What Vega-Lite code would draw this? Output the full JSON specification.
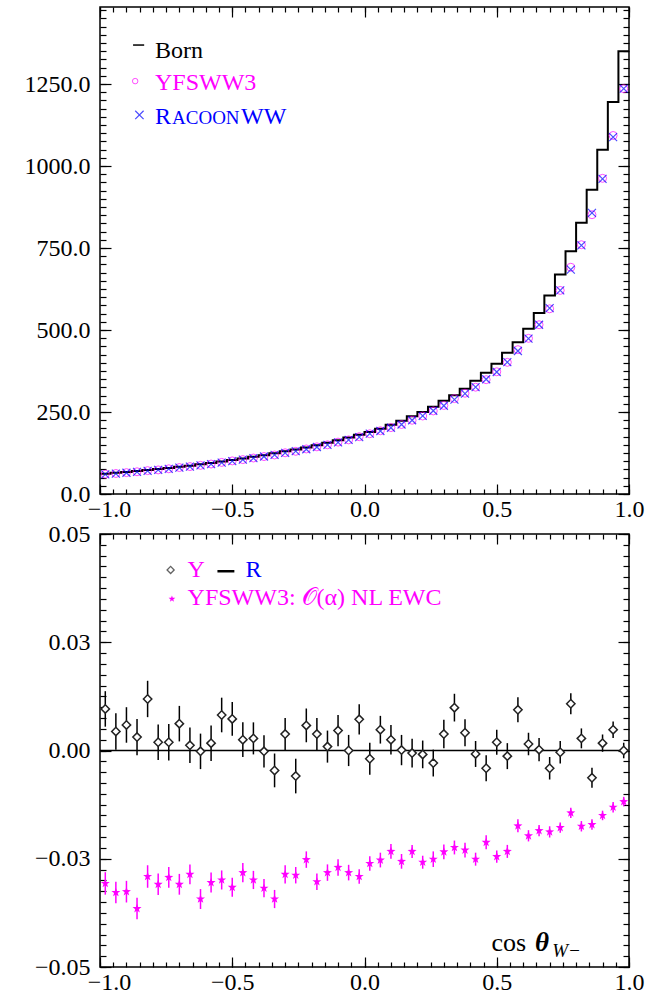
{
  "$schema": "https://vega.github.io/schema/vega-lite/v6.json",
  "padding": {"left": 23, "top": 5, "right": 0, "bottom": 0},
  "bounds": "flush",
  "spacing": 40,
  "background": "white",
  "config": {
    "view": {"stroke": "black", "strokeWidth": 1.5},
    "axis": {"domain": false, "grid": false, "labelFont": "'Liberation Serif', 'Times New Roman', Times, serif", "labelFontSize": 24, "labelColor": "black", "tickColor": "black", "tickWidth": 1.2},
    "text": {"font": "'Liberation Serif', 'Times New Roman', Times, serif"}
  },
  "datasets": {
    "born": [
      {"x": -1.00, "born": 62}, {"x": -0.96, "born": 64.5}, {"x": -0.92, "born": 67}, {"x": -0.88, "born": 70},
      {"x": -0.84, "born": 73}, {"x": -0.80, "born": 76}, {"x": -0.76, "born": 79.5}, {"x": -0.72, "born": 83},
      {"x": -0.68, "born": 86.5}, {"x": -0.64, "born": 90.5}, {"x": -0.60, "born": 94.5}, {"x": -0.56, "born": 99},
      {"x": -0.52, "born": 104}, {"x": -0.48, "born": 108.5}, {"x": -0.44, "born": 113.5}, {"x": -0.40, "born": 118.5},
      {"x": -0.36, "born": 124}, {"x": -0.32, "born": 130}, {"x": -0.28, "born": 136}, {"x": -0.24, "born": 142},
      {"x": -0.20, "born": 149}, {"x": -0.16, "born": 156}, {"x": -0.12, "born": 164}, {"x": -0.08, "born": 172},
      {"x": -0.04, "born": 181}, {"x": 0.00, "born": 189}, {"x": 0.04, "born": 199}, {"x": 0.08, "born": 211},
      {"x": 0.12, "born": 223}, {"x": 0.16, "born": 237}, {"x": 0.20, "born": 250}, {"x": 0.24, "born": 266},
      {"x": 0.28, "born": 284}, {"x": 0.32, "born": 301}, {"x": 0.36, "born": 321}, {"x": 0.40, "born": 345},
      {"x": 0.44, "born": 370}, {"x": 0.48, "born": 397}, {"x": 0.52, "born": 431}, {"x": 0.56, "born": 463},
      {"x": 0.60, "born": 504}, {"x": 0.64, "born": 552}, {"x": 0.68, "born": 605}, {"x": 0.72, "born": 669},
      {"x": 0.76, "born": 740}, {"x": 0.80, "born": 827}, {"x": 0.84, "born": 928}, {"x": 0.88, "born": 1050},
      {"x": 0.92, "born": 1195}, {"x": 0.96, "born": 1350}, {"x": 1.00, "born": 1350}
    ],
    "top": [
      {"c": -0.98, "rac": 60, "yfs": 60.6}, {"c": -0.94, "rac": 62.3, "yfs": 62.6}, {"c": -0.90, "rac": 64.8, "yfs": 65.2},
      {"c": -0.86, "rac": 67.6, "yfs": 67.8}, {"c": -0.82, "rac": 70.5, "yfs": 71.3}, {"c": -0.78, "rac": 73.4, "yfs": 73.5},
      {"c": -0.74, "rac": 76.8, "yfs": 76.9}, {"c": -0.70, "rac": 80.2, "yfs": 80.7}, {"c": -0.66, "rac": 83.5, "yfs": 83.6},
      {"c": -0.62, "rac": 87.3, "yfs": 87.3}, {"c": -0.58, "rac": 91.2, "yfs": 91.4}, {"c": -0.54, "rac": 95.5, "yfs": 96.3},
      {"c": -0.50, "rac": 100.3, "yfs": 101.0}, {"c": -0.46, "rac": 104.6, "yfs": 104.9}, {"c": -0.42, "rac": 109.4, "yfs": 109.7},
      {"c": -0.38, "rac": 114.2, "yfs": 114.2}, {"c": -0.34, "rac": 119.5, "yfs": 119.0}, {"c": -0.30, "rac": 125.2, "yfs": 125.7},
      {"c": -0.26, "rac": 130.9, "yfs": 130.1}, {"c": -0.22, "rac": 136.6, "yfs": 137.4}, {"c": -0.18, "rac": 143.3, "yfs": 143.8},
      {"c": -0.14, "rac": 150, "yfs": 150.1}, {"c": -0.10, "rac": 157.5, "yfs": 158.2}, {"c": -0.06, "rac": 165, "yfs": 165.0},
      {"c": -0.02, "rac": 173.5, "yfs": 174.7}, {"c": 0.02, "rac": 184, "yfs": 183.7}, {"c": 0.06, "rac": 192, "yfs": 192.9},
      {"c": 0.10, "rac": 202, "yfs": 202.5}, {"c": 0.14, "rac": 212, "yfs": 212.0}, {"c": 0.18, "rac": 225, "yfs": 224.9},
      {"c": 0.22, "rac": 238, "yfs": 237.8}, {"c": 0.26, "rac": 254, "yfs": 253.3}, {"c": 0.30, "rac": 269, "yfs": 270.0},
      {"c": 0.34, "rac": 288, "yfs": 290.9}, {"c": 0.38, "rac": 306, "yfs": 307.3}, {"c": 0.42, "rac": 326, "yfs": 325.7},
      {"c": 0.46, "rac": 350, "yfs": 348.6}, {"c": 0.50, "rac": 372, "yfs": 372.7}, {"c": 0.54, "rac": 402, "yfs": 401.5},
      {"c": 0.58, "rac": 436, "yfs": 440.1}, {"c": 0.62, "rac": 474, "yfs": 474.7}, {"c": 0.66, "rac": 516, "yfs": 516.1},
      {"c": 0.70, "rac": 567, "yfs": 564.7}, {"c": 0.74, "rac": 621, "yfs": 620.8}, {"c": 0.78, "rac": 684, "yfs": 691.4},
      {"c": 0.82, "rac": 758, "yfs": 760.1}, {"c": 0.86, "rac": 857, "yfs": 851.6}, {"c": 0.90, "rac": 961, "yfs": 962.6},
      {"c": 0.94, "rac": 1088, "yfs": 1093.2}, {"c": 0.98, "rac": 1236, "yfs": 1236.0}
    ],
    "bottom": [
      {"c": -0.98, "d": 0.0096, "de": 0.0041, "nl": -0.0307, "nle": 0.0026},
      {"c": -0.94, "d": 0.0044, "de": 0.0042, "nl": -0.0328, "nle": 0.0025},
      {"c": -0.90, "d": 0.0059, "de": 0.0041, "nl": -0.0326, "nle": 0.0025},
      {"c": -0.86, "d": 0.0031, "de": 0.0042, "nl": -0.0365, "nle": 0.0025},
      {"c": -0.82, "d": 0.0119, "de": 0.0042, "nl": -0.0291, "nle": 0.0026},
      {"c": -0.78, "d": 0.0019, "de": 0.0041, "nl": -0.0309, "nle": 0.0025},
      {"c": -0.74, "d": 0.0019, "de": 0.0042, "nl": -0.0293, "nle": 0.0024},
      {"c": -0.70, "d": 0.0062, "de": 0.0041, "nl": -0.0309, "nle": 0.0024},
      {"c": -0.66, "d": 0.0012, "de": 0.0041, "nl": -0.0286, "nle": 0.0023},
      {"c": -0.62, "d": -0.0002, "de": 0.0041, "nl": -0.0343, "nle": 0.0023},
      {"c": -0.58, "d": 0.0017, "de": 0.0041, "nl": -0.0305, "nle": 0.0023},
      {"c": -0.54, "d": 0.0082, "de": 0.0040, "nl": -0.0299, "nle": 0.0022},
      {"c": -0.50, "d": 0.0073, "de": 0.0039, "nl": -0.0316, "nle": 0.0022},
      {"c": -0.46, "d": 0.0025, "de": 0.0040, "nl": -0.0282, "nle": 0.0022},
      {"c": -0.42, "d": 0.0028, "de": 0.0037, "nl": -0.0299, "nle": 0.0021},
      {"c": -0.38, "d": -0.0002, "de": 0.0037, "nl": -0.0318, "nle": 0.0021},
      {"c": -0.34, "d": -0.0046, "de": 0.0039, "nl": -0.0343, "nle": 0.0021},
      {"c": -0.30, "d": 0.0038, "de": 0.0037, "nl": -0.0286, "nle": 0.0021},
      {"c": -0.26, "d": -0.0059, "de": 0.0040, "nl": -0.0288, "nle": 0.0019},
      {"c": -0.22, "d": 0.0058, "de": 0.0039, "nl": -0.0252, "nle": 0.0019},
      {"c": -0.18, "d": 0.0038, "de": 0.0037, "nl": -0.0303, "nle": 0.0019},
      {"c": -0.14, "d": 0.0009, "de": 0.0037, "nl": -0.0282, "nle": 0.0019},
      {"c": -0.10, "d": 0.0046, "de": 0.0036, "nl": -0.0270, "nle": 0.0019},
      {"c": -0.06, "d": 0.0000, "de": 0.0036, "nl": -0.0282, "nle": 0.0018},
      {"c": -0.02, "d": 0.0072, "de": 0.0035, "nl": -0.0291, "nle": 0.0017},
      {"c": 0.02, "d": -0.0019, "de": 0.0037, "nl": -0.0261, "nle": 0.0017},
      {"c": 0.06, "d": 0.0048, "de": 0.0032, "nl": -0.0253, "nle": 0.0017},
      {"c": 0.10, "d": 0.0025, "de": 0.0034, "nl": -0.0233, "nle": 0.0017},
      {"c": 0.14, "d": 0.0001, "de": 0.0035, "nl": -0.0256, "nle": 0.0017},
      {"c": 0.18, "d": -0.0006, "de": 0.0033, "nl": -0.0233, "nle": 0.0015},
      {"c": 0.22, "d": -0.0009, "de": 0.0032, "nl": -0.0258, "nle": 0.0015},
      {"c": 0.26, "d": -0.0029, "de": 0.0031, "nl": -0.0251, "nle": 0.0018},
      {"c": 0.30, "d": 0.0038, "de": 0.0033, "nl": -0.0234, "nle": 0.0017},
      {"c": 0.34, "d": 0.0099, "de": 0.0032, "nl": -0.0224, "nle": 0.0016},
      {"c": 0.38, "d": 0.0041, "de": 0.0031, "nl": -0.0230, "nle": 0.0017},
      {"c": 0.42, "d": -0.0008, "de": 0.0030, "nl": -0.0251, "nle": 0.0015},
      {"c": 0.46, "d": -0.0041, "de": 0.0030, "nl": -0.0212, "nle": 0.0016},
      {"c": 0.50, "d": 0.0019, "de": 0.0029, "nl": -0.0245, "nle": 0.0014},
      {"c": 0.54, "d": -0.0013, "de": 0.0030, "nl": -0.0233, "nle": 0.0015},
      {"c": 0.58, "d": 0.0094, "de": 0.0029, "nl": -0.0174, "nle": 0.0015},
      {"c": 0.62, "d": 0.0015, "de": 0.0026, "nl": -0.0197, "nle": 0.0013},
      {"c": 0.66, "d": 0.0002, "de": 0.0027, "nl": -0.0185, "nle": 0.0013},
      {"c": 0.70, "d": -0.0041, "de": 0.0026, "nl": -0.0188, "nle": 0.0013},
      {"c": 0.74, "d": -0.0004, "de": 0.0026, "nl": -0.0178, "nle": 0.0012},
      {"c": 0.78, "d": 0.0108, "de": 0.0024, "nl": -0.0144, "nle": 0.0012},
      {"c": 0.82, "d": 0.0028, "de": 0.0023, "nl": -0.0175, "nle": 0.0012},
      {"c": 0.86, "d": -0.0063, "de": 0.0023, "nl": -0.0171, "nle": 0.0012},
      {"c": 0.90, "d": 0.0017, "de": 0.0020, "nl": -0.0150, "nle": 0.0011},
      {"c": 0.94, "d": 0.0048, "de": 0.0019, "nl": -0.0131, "nle": 0.0012},
      {"c": 0.98, "d": 0.0000, "de": 0.0018, "nl": -0.0118, "nle": 0.0011}
    ]
  },
  "vconcat": [
    {
      "width": 529,
      "height": 487,
      "resolve": {"axis": {"x": "independent", "y": "independent"}},
      "layer": [
        {
          "data": {"name": "born"},
          "mark": {"type": "line", "interpolate": "step-after", "color": "black", "strokeWidth": 2},
          "encoding": {
            "x": {"field": "x", "type": "quantitative", "scale": {"domain": [-1, 1], "nice": false, "zero": false},
                  "axis": {"orient": "bottom", "values": [-1, -0.5, 0, 0.5, 1], "format": ".1f", "ticks": false, "labelPadding": 3, "labelFlush": false, "labelOverlap": false, "labelOffset": {"condition": {"test": "datum.value < -0.9", "value": 9}, "value": 0}, "title": null}},
            "y": {"field": "born", "type": "quantitative", "scale": {"domain": [0, 1485], "nice": false, "zero": false},
                  "axis": {"orient": "left", "values": [0, 250, 500, 750, 1000, 1250], "format": ".1f", "ticks": false, "labelPadding": 10, "labelOverlap": false, "title": null}}
          }
        },
        {
          "data": {"name": "top"},
          "mark": {"type": "point", "shape": "circle", "filled": false, "color": "#ff00ff", "size": 64, "strokeWidth": 1},
          "encoding": {
            "x": {"field": "c", "type": "quantitative", "axis": {"orient": "bottom", "values": [-1, -0.5, 0, 0.5, 1], "labels": false, "tickSize": -10, "title": null}},
            "y": {"field": "yfs", "type": "quantitative", "axis": {"orient": "left", "values": [0, 250, 500, 750, 1000, 1250], "labels": false, "tickSize": -11, "title": null}}
          }
        },
        {
          "data": {"name": "top"},
          "mark": {"type": "point", "shape": "M-1,-1L1,1M-1,1L1,-1", "filled": false, "color": "#0000ff", "size": 64, "strokeWidth": 1.2},
          "encoding": {
            "x": {"field": "c", "type": "quantitative", "axis": {"orient": "bottom", "values": [-1,-0.95,-0.9,-0.85,-0.8,-0.75,-0.7,-0.65,-0.6,-0.55,-0.5,-0.45,-0.4,-0.35,-0.3,-0.25,-0.2,-0.15,-0.1,-0.05,0,0.05,0.1,0.15,0.2,0.25,0.3,0.35,0.4,0.45,0.5,0.55,0.6,0.65,0.7,0.75,0.8,0.85,0.9,0.95,1], "labels": false, "tickSize": -5, "title": null}},
            "y": {"field": "rac", "type": "quantitative", "axis": {"orient": "left", "values": [0,25,50,75,100,125,150,175,200,225,250,275,300,325,350,375,400,425,450,475,500,525,550,575,600,625,650,675,700,725,750,775,800,825,850,875,900,925,950,975,1000,1025,1050,1075,1100,1125,1150,1175,1200,1225,1250,1275,1300,1325,1350,1375,1400,1425,1450,1475], "labels": false, "tickSize": -6, "title": null}}
          }
        },
        {
          "data": {"values": [{}]},
          "mark": {"type": "rule", "color": "black", "strokeWidth": 1.5},
          "encoding": {
            "x": {"datum": -0.875, "type": "quantitative", "axis": {"orient": "top", "values": [-1, -0.5, 0, 0.5, 1], "labels": false, "tickSize": -10, "title": null}},
            "x2": {"datum": -0.833},
            "y": {"datum": 1369, "type": "quantitative", "axis": {"orient": "right", "values": [0, 250, 500, 750, 1000, 1250], "labels": false, "tickSize": -11, "title": null}}
          }
        },
        {
          "data": {"values": [{}]},
          "mark": {"type": "point", "shape": "circle", "filled": false, "color": "#ff00ff", "size": 30, "strokeWidth": 1},
          "encoding": {
            "x": {"datum": -0.867, "type": "quantitative", "axis": {"orient": "top", "values": [-1,-0.95,-0.9,-0.85,-0.8,-0.75,-0.7,-0.65,-0.6,-0.55,-0.5,-0.45,-0.4,-0.35,-0.3,-0.25,-0.2,-0.15,-0.1,-0.05,0,0.05,0.1,0.15,0.2,0.25,0.3,0.35,0.4,0.45,0.5,0.55,0.6,0.65,0.7,0.75,0.8,0.85,0.9,0.95,1], "labels": false, "tickSize": -5, "title": null}},
            "y": {"datum": 1259, "type": "quantitative", "axis": {"orient": "right", "values": [0,25,50,75,100,125,150,175,200,225,250,275,300,325,350,375,400,425,450,475,500,525,550,575,600,625,650,675,700,725,750,775,800,825,850,875,900,925,950,975,1000,1025,1050,1075,1100,1125,1150,1175,1200,1225,1250,1275,1300,1325,1350,1375,1400,1425,1450,1475], "labels": false, "tickSize": -6, "title": null}}
          }
        },
        {
          "data": {"values": [{}]},
          "mark": {"type": "point", "shape": "M-1,-1L1,1M-1,1L1,-1", "filled": false, "color": "#0000ff", "size": 70, "strokeWidth": 1.2},
          "encoding": {
            "x": {"datum": -0.851, "type": "quantitative", "axis": null},
            "y": {"datum": 1156, "type": "quantitative", "axis": null}
          }
        },
        {
          "data": {"values": [{}]},
          "mark": {"type": "text", "text": "Born", "align": "left", "baseline": "alphabetic", "fontSize": 24, "color": "black"},
          "encoding": {
            "x": {"datum": -0.792, "type": "quantitative", "axis": null},
            "y": {"datum": 1329, "type": "quantitative", "axis": null}
          }
        },
        {
          "data": {"values": [{}]},
          "mark": {"type": "text", "text": "YFSWW3", "align": "left", "baseline": "alphabetic", "fontSize": 24, "color": "#ff00ff"},
          "encoding": {
            "x": {"datum": -0.792, "type": "quantitative", "axis": null},
            "y": {"datum": 1231, "type": "quantitative", "axis": null}
          }
        },
        {
          "data": {"values": [{}]},
          "mark": {"type": "text", "text": "R", "align": "left", "baseline": "alphabetic", "fontSize": 24, "color": "#0000ff"},
          "encoding": {
            "x": {"datum": -0.792, "type": "quantitative", "axis": null},
            "y": {"datum": 1129, "type": "quantitative", "axis": null}
          }
        },
        {
          "data": {"values": [{}]},
          "mark": {"type": "text", "text": "ACOON", "align": "left", "baseline": "alphabetic", "fontSize": 19, "dx": 17, "color": "#0000ff"},
          "encoding": {
            "x": {"datum": -0.792, "type": "quantitative", "axis": null},
            "y": {"datum": 1129, "type": "quantitative", "axis": null}
          }
        },
        {
          "data": {"values": [{}]},
          "mark": {"type": "text", "text": "WW", "align": "left", "baseline": "alphabetic", "fontSize": 24, "dx": 86, "color": "#0000ff"},
          "encoding": {
            "x": {"datum": -0.792, "type": "quantitative", "axis": null},
            "y": {"datum": 1129, "type": "quantitative", "axis": null}
          }
        }
      ]
    },
    {
      "width": 529,
      "height": 433,
      "resolve": {"axis": {"x": "independent", "y": "independent"}},
      "layer": [
        {
          "data": {"name": "bottom"},
          "mark": {"type": "errorbar", "ticks": false, "color": "black", "thickness": 1.5},
          "encoding": {
            "x": {"field": "c", "type": "quantitative", "scale": {"domain": [-1, 1], "nice": false, "zero": false}, "axis": null},
            "y": {"field": "d", "type": "quantitative", "scale": {"domain": [-0.05, 0.05], "nice": false, "zero": false}, "axis": null},
            "yError": {"field": "de"}
          }
        },
        {
          "data": {"name": "bottom"},
          "mark": {"type": "errorbar", "ticks": false, "color": "#ff00ff", "thickness": 1.5},
          "encoding": {
            "x": {"field": "c", "type": "quantitative", "axis": null},
            "y": {"field": "nl", "type": "quantitative", "axis": null},
            "yError": {"field": "nle"}
          }
        },
        {
          "data": {"values": [{}]},
          "mark": {"type": "rule", "color": "black", "strokeWidth": 1.5},
          "encoding": {
            "y": {"datum": 0, "type": "quantitative", "axis": null}
          }
        },
        {
          "data": {"name": "bottom"},
          "mark": {"type": "point", "shape": "diamond", "filled": true, "fill": "white", "stroke": "#222222", "strokeWidth": 1.5, "size": 70, "opacity": 1},
          "encoding": {
            "x": {"field": "c", "type": "quantitative", "axis": {"orient": "bottom", "values": [-1, -0.5, 0, 0.5, 1], "format": ".1f", "ticks": false, "labelPadding": 3, "labelFlush": false, "labelOverlap": false, "labelOffset": {"condition": {"test": "datum.value < -0.9", "value": 9}, "value": 0}, "title": null}},
            "y": {"field": "d", "type": "quantitative", "axis": {"orient": "left", "values": [-0.05, -0.025, 0, 0.025, 0.05], "labelExpr": "datum.value > 0.04 ? '0.05' : datum.value > 0.02 ? '0.03' : datum.value > -0.01 ? '0.00' : datum.value > -0.04 ? '\u22120.03' : '\u22120.05'", "ticks": false, "labelPadding": 10, "labelOverlap": false, "title": null}}
          }
        },
        {
          "data": {"name": "bottom"},
          "mark": {"type": "point", "shape": "M0,-1L0.235,-0.324L0.951,-0.309L0.38,0.124L0.588,0.809L0,0.4L-0.588,0.809L-0.38,0.124L-0.951,-0.309L-0.235,-0.324Z", "filled": true, "color": "#ff00ff", "size": 90, "opacity": 1},
          "encoding": {
            "x": {"field": "c", "type": "quantitative", "axis": {"orient": "bottom", "values": [-1, -0.5, 0, 0.5, 1], "labels": false, "tickSize": -10, "title": null}},
            "y": {"field": "nl", "type": "quantitative", "axis": {"orient": "left", "values": [-0.05, -0.025, 0, 0.025, 0.05], "labels": false, "tickSize": -11, "title": null}}
          }
        },
        {
          "data": {"values": [{}]},
          "mark": {"type": "point", "shape": "diamond", "filled": false, "color": "#222222", "strokeWidth": 1.3, "size": 50},
          "encoding": {
            "x": {"datum": -0.733, "type": "quantitative", "axis": {"orient": "bottom", "values": [-1,-0.95,-0.9,-0.85,-0.8,-0.75,-0.7,-0.65,-0.6,-0.55,-0.5,-0.45,-0.4,-0.35,-0.3,-0.25,-0.2,-0.15,-0.1,-0.05,0,0.05,0.1,0.15,0.2,0.25,0.3,0.35,0.4,0.45,0.5,0.55,0.6,0.65,0.7,0.75,0.8,0.85,0.9,0.95,1], "labels": false, "tickSize": -5, "title": null}},
            "y": {"datum": 0.0417, "type": "quantitative", "axis": {"orient": "left", "values": [-0.05,-0.0475,-0.045,-0.0425,-0.04,-0.0375,-0.035,-0.0325,-0.03,-0.0275,-0.025,-0.0225,-0.02,-0.0175,-0.015,-0.0125,-0.01,-0.0075,-0.005,-0.0025,0,0.0025,0.005,0.0075,0.01,0.0125,0.015,0.0175,0.02,0.0225,0.025,0.0275,0.03,0.0325,0.035,0.0375,0.04,0.0425,0.045,0.0475,0.05], "labels": false, "tickSize": -6, "title": null}}
          }
        },
        {
          "data": {"values": [{}]},
          "mark": {"type": "point", "shape": "M0,-1L0.235,-0.324L0.951,-0.309L0.38,0.124L0.588,0.809L0,0.4L-0.588,0.809L-0.38,0.124L-0.951,-0.309L-0.235,-0.324Z", "filled": true, "color": "#ff00ff", "size": 50, "opacity": 1},
          "encoding": {
            "x": {"datum": -0.728, "type": "quantitative", "axis": {"orient": "top", "values": [-1, -0.5, 0, 0.5, 1], "labels": false, "tickSize": -10, "title": null}},
            "y": {"datum": 0.0350, "type": "quantitative", "axis": {"orient": "right", "values": [-0.05, -0.025, 0, 0.025, 0.05], "labels": false, "tickSize": -11, "title": null}}
          }
        },
        {
          "data": {"values": [{}]},
          "mark": {"type": "rule", "color": "black", "strokeWidth": 2.5},
          "encoding": {
            "x": {"datum": -0.556, "type": "quantitative", "axis": {"orient": "top", "values": [-1,-0.95,-0.9,-0.85,-0.8,-0.75,-0.7,-0.65,-0.6,-0.55,-0.5,-0.45,-0.4,-0.35,-0.3,-0.25,-0.2,-0.15,-0.1,-0.05,0,0.05,0.1,0.15,0.2,0.25,0.3,0.35,0.4,0.45,0.5,0.55,0.6,0.65,0.7,0.75,0.8,0.85,0.9,0.95,1], "labels": false, "tickSize": -5, "title": null}},
            "x2": {"datum": -0.492},
            "y": {"datum": 0.0414, "type": "quantitative", "axis": {"orient": "right", "values": [-0.05,-0.0475,-0.045,-0.0425,-0.04,-0.0375,-0.035,-0.0325,-0.03,-0.0275,-0.025,-0.0225,-0.02,-0.0175,-0.015,-0.0125,-0.01,-0.0075,-0.005,-0.0025,0,0.0025,0.005,0.0075,0.01,0.0125,0.015,0.0175,0.02,0.0225,0.025,0.0275,0.03,0.0325,0.035,0.0375,0.04,0.0425,0.045,0.0475,0.05], "labels": false, "tickSize": -6, "title": null}}
          }
        },
        {
          "data": {"values": [{}]},
          "mark": {"type": "text", "text": "Y", "align": "left", "baseline": "alphabetic", "fontSize": 24, "color": "#ff00ff"},
          "encoding": {
            "x": {"datum": -0.669, "type": "quantitative", "axis": null},
            "y": {"datum": 0.0401, "type": "quantitative", "axis": null}
          }
        },
        {
          "data": {"values": [{}]},
          "mark": {"type": "text", "text": "R", "align": "left", "baseline": "alphabetic", "fontSize": 24, "color": "#0000ff"},
          "encoding": {
            "x": {"datum": -0.450, "type": "quantitative", "axis": null},
            "y": {"datum": 0.0401, "type": "quantitative", "axis": null}
          }
        },
        {
          "data": {"values": [{}]},
          "mark": {"type": "text", "text": "YFSWW3: 𝒪(α) NL EWC", "align": "left", "baseline": "alphabetic", "fontSize": 24, "color": "#ff00ff"},
          "encoding": {
            "x": {"datum": -0.669, "type": "quantitative", "axis": null},
            "y": {"datum": 0.0336, "type": "quantitative", "axis": null}
          }
        },
        {
          "data": {"values": [{}]},
          "mark": {"type": "text", "text": "cos", "align": "left", "baseline": "alphabetic", "fontSize": 26, "color": "black"},
          "encoding": {
            "x": {"datum": 0.48, "type": "quantitative", "axis": null},
            "y": {"datum": -0.0462, "type": "quantitative", "axis": null}
          }
        },
        {
          "data": {"values": [{}]},
          "mark": {"type": "text", "text": "θ", "align": "left", "baseline": "alphabetic", "fontSize": 27, "fontStyle": "italic", "fontWeight": "bold", "color": "black"},
          "encoding": {
            "x": {"datum": 0.645, "type": "quantitative", "axis": null},
            "y": {"datum": -0.0462, "type": "quantitative", "axis": null}
          }
        },
        {
          "data": {"values": [{}]},
          "mark": {"type": "text", "text": "W−", "align": "left", "baseline": "alphabetic", "fontSize": 19, "fontStyle": "italic", "color": "black"},
          "encoding": {
            "x": {"datum": 0.71, "type": "quantitative", "axis": null},
            "y": {"datum": -0.0478, "type": "quantitative", "axis": null}
          }
        }
      ]
    }
  ]
}
